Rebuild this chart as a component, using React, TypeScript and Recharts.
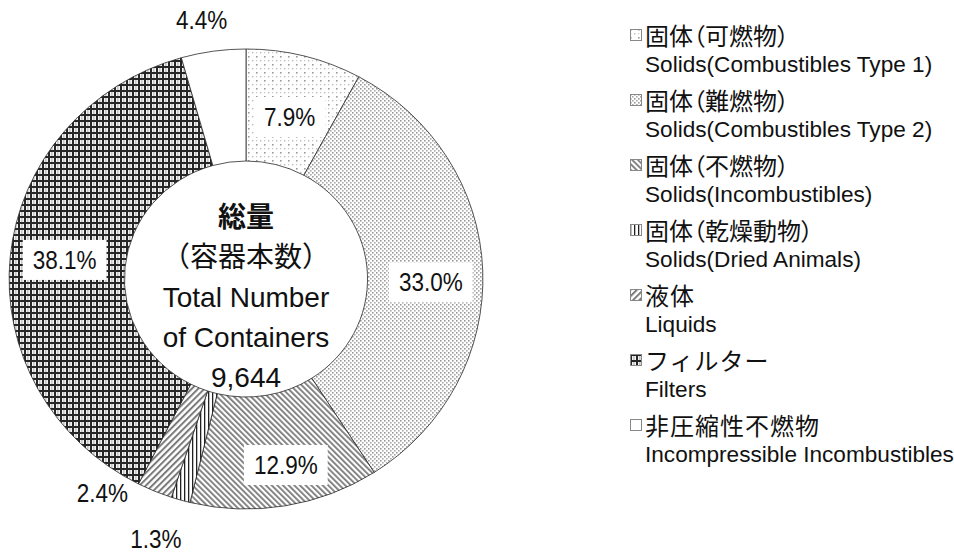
import React from "react";
import { PieChart, Pie, Cell, Legend } from "recharts";

// 容器本数の内訳 (%), clockwise from 12 o'clock
const jaNames = [
  "固体（可燃物）",
  "固体（難燃物）",
  "固体（不燃物）",
  "固体（乾燥動物）",
  "液体",
  "フィルター",
  "非圧縮性不燃物",
];
const enNames = [
  "Solids(Combustibles Type 1)",
  "Solids(Combustibles Type 2)",
  "Solids(Incombustibles)",
  "Solids(Dried Animals)",
  "Liquids",
  "Filters",
  "Incompressible Incombustibles",
];
const shares = [7.9, 33.0, 12.9, 1.3, 2.4, 38.1, 4.4];
const centerLines = ["総量", "（容器本数）", "Total Number", "of Containers", "9,644"];

const fills = [
  "url(#pat-comb1)",
  "url(#pat-comb2)",
  "url(#pat-incomb)",
  "url(#pat-dried)",
  "url(#pat-liquid)",
  "url(#pat-filter)",
  "#ffffff",
];

const data = shares.map((value, i) => ({ name: jaNames[i], en: enNames[i], value }));

const W = 954;
const H = 552;
const CX = 246;
const CY = 279;
const R_OUT = 230;
const R_IN = 118;
const STRETCH = 1.03; // the source doughnut is a slightly widened circle
const FONT = '"Liberation Sans", Arial, "Noto Sans CJK JP", sans-serif';
const LABEL_FS = 25;

// where each percentage sits: fraction of the outer radius, nudge along the ring (deg, clockwise)
const labelPlace = [
  { t: 0.728, shift: 0.4, boxed: true },
  { t: 0.78, shift: 3.2, boxed: true },
  { t: 0.826, shift: -2.2, boxed: true },
  { t: 1.193, shift: 2.6, boxed: false },
  { t: 1.11, shift: 10.4, boxed: false },
  { t: 0.77, shift: 0.6, boxed: true },
  { t: 1.142, shift: -1.5, boxed: false },
];

function ellPoint(cx: number, cy: number, r: number, deg: number) {
  const a = (deg * Math.PI) / 180;
  return [cx + r * STRETCH * Math.cos(a), cy - r * Math.sin(a)];
}

function EllipseSector(props: any) {
  const { cx, cy, innerRadius, outerRadius, startAngle, endAngle, fill } = props;
  const [x1, y1] = ellPoint(cx, cy, outerRadius, startAngle);
  const [x2, y2] = ellPoint(cx, cy, outerRadius, endAngle);
  const [x3, y3] = ellPoint(cx, cy, innerRadius, endAngle);
  const [x4, y4] = ellPoint(cx, cy, innerRadius, startAngle);
  const large = Math.abs(endAngle - startAngle) > 180 ? 1 : 0;
  const d =
    `M${x1},${y1} A${outerRadius * STRETCH},${outerRadius} 0 ${large} 1 ${x2},${y2} ` +
    `L${x3},${y3} A${innerRadius * STRETCH},${innerRadius} 0 ${large} 0 ${x4},${y4} Z`;
  return <path d={d} fill={fill} stroke="#2a2a2a" strokeWidth={0.8} />;
}

// rough Arial advance widths, good enough to size the white label boxes
function textWidth(s: string, fs: number) {
  let w = 0;
  for (const ch of s) w += ch === "." ? 0.278 : ch === "%" ? 0.889 : 0.556;
  return w * fs;
}

const LABEL_SX = 0.9; // the source labels use a slightly condensed face

function PctLabel(props: any) {
  const { cx, cy, midAngle, outerRadius, index } = props;
  const value = props.value ?? props.payload?.value;
  const p = labelPlace[index];
  const a = ((midAngle - p.shift) * Math.PI) / 180;
  const x = cx + outerRadius * p.t * STRETCH * Math.cos(a);
  const y = cy - outerRadius * p.t * Math.sin(a);
  const txt = `${Number(value).toFixed(1)}%`;
  const tw = textWidth(txt, LABEL_FS) * LABEL_SX;
  return (
    <g>
      {p.boxed && <rect x={x - tw / 2 - 10} y={y - 20} width={tw + 20} height={40} fill="#fff" />}
      <text
        transform={`translate(${x},${y}) scale(${LABEL_SX},1)`}
        textAnchor="middle"
        dominantBaseline="central"
        fontSize={LABEL_FS}
        fontFamily={FONT}
        fill="#111"
      >
        {txt}
      </text>
    </g>
  );
}

function LegendBlock({ payload }: any) {
  const src = payload && payload.length ? payload : data.map((d) => ({ value: d.name, payload: d }));
  // keep the slice order (the library sorts legend items by name)
  const items = [...src].sort(
    (a: any, b: any) => jaNames.indexOf(String(a.value)) - jaNames.indexOf(String(b.value)),
  );
  return (
    <div style={{ fontFamily: FONT, color: "#111" }}>
      {items.map((entry: any) => {
        const ja = String(entry.value);
        const i = jaNames.indexOf(ja);
        return (
          <div key={ja} style={{ marginBottom: 4 }}>
            <div style={{ display: "flex", alignItems: "center", height: 31, whiteSpace: "nowrap" }}>
              <svg width={12} height={12} style={{ marginRight: 3, flex: "none" }}>
                <rect x={0.5} y={0.5} width={11} height={11} fill={fills[i]} stroke="#888" />
              </svg>
              <span
                style={{
                  fontSize: 24,
                  fontFeatureSettings: ja.includes("（") ? '"palt"' : "normal",
                  letterSpacing: ja.includes("（") ? 0 : 1,
                }}
              >
                {ja}
              </span>
            </div>
            <div style={{ height: 30, lineHeight: "30px", fontSize: 22.6, paddingLeft: 15, whiteSpace: "nowrap" }}>
              {enNames[i]}
            </div>
          </div>
        );
      })}
    </div>
  );
}

export default function App() {
  return (
    <div style={{ position: "absolute", left: 0, top: 0, width: W, height: H, background: "#fff" }}>
      <PieChart width={W} height={H} margin={{ top: 0, right: 0, bottom: 0, left: 0 }}>
        <defs>
          <pattern id="pat-comb1" width="8" height="8" patternUnits="userSpaceOnUse">
            <rect width="8" height="8" fill="#fff" />
            <rect x="0" y="0" width="1.6" height="1.6" fill="#9a9a9a" />
            <rect x="4" y="4" width="1.4" height="1.4" fill="#b8b8b8" />
            <rect x="0" y="4" width="1.2" height="1.2" fill="#c8c8c8" />
          </pattern>
          <pattern id="pat-comb2" width="4" height="4" patternUnits="userSpaceOnUse">
            <rect width="4" height="4" fill="#fff" />
            <rect x="0" y="0" width="1.6" height="1.6" fill="#999" />
            <rect x="2" y="2" width="1.6" height="1.6" fill="#aaa" />
          </pattern>
          <pattern id="pat-incomb" width="4" height="4" patternUnits="userSpaceOnUse" patternTransform="rotate(-45)">
            <rect width="4" height="4" fill="#fff" />
            <rect x="0" y="0" width="1.8" height="4" fill="#7a7a7a" />
          </pattern>
          <pattern id="pat-dried" width="4" height="4" patternUnits="userSpaceOnUse">
            <rect width="4" height="4" fill="#fff" />
            <rect x="0" y="0" width="1.3" height="4" fill="#222" />
          </pattern>
          <pattern id="pat-liquid" width="4.5" height="4.5" patternUnits="userSpaceOnUse" patternTransform="rotate(45)">
            <rect width="4.5" height="4.5" fill="#fff" />
            <rect x="0" y="0" width="2" height="4.5" fill="#7a7a7a" />
          </pattern>
          <pattern id="pat-filter" width="6" height="6" patternUnits="userSpaceOnUse">
            <rect width="6" height="6" fill="#f4f4f4" />
            <rect x="0" y="0" width="6" height="2" fill="#262626" />
            <rect x="0" y="0" width="2" height="6" fill="#262626" />
            <rect x="3.5" y="2" width="0.8" height="4" fill="#9a9a9a" />
          </pattern>
        </defs>
        <Pie
          data={data}
          dataKey="value"
          nameKey="name"
          cx={CX}
          cy={CY}
          innerRadius={R_IN}
          outerRadius={R_OUT}
          startAngle={90}
          endAngle={-270}
          stroke="#2a2a2a"
          strokeWidth={0.8}
          shape={EllipseSector}
          activeShape={EllipseSector}
          label={PctLabel}
          labelLine={false}
          isAnimationActive={false}
        >
          {data.map((d, i) => (
            <Cell key={d.name} fill={fills[i]} />
          ))}
        </Pie>
        <g fontFamily={FONT} fill="#111" textAnchor="middle">
          {centerLines.map((line, i) => (
            <text
              key={line}
              x={CX}
              y={CY - 62 + i * 40}
              dominantBaseline="central"
              fontSize={28}
              fontWeight={i === 0 ? 700 : 400}
            >
              {line}
            </text>
          ))}
        </g>
        <Legend
          layout="vertical"
          align="right"
          verticalAlign="top"
          content={LegendBlock}
          wrapperStyle={{ left: 630, top: 19, width: 324, right: "auto" }}
        />
      </PieChart>
    </div>
  );
}
